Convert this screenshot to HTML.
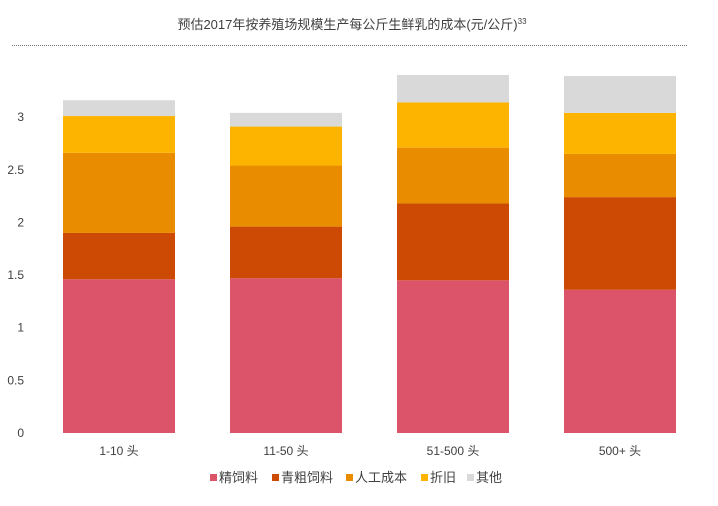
<!DOCTYPE html>
<html><head><meta charset="utf-8"><style>
body{margin:0;background:#fff;}
svg{display:block;font-family:"Liberation Sans","Noto Sans CJK SC",sans-serif;}
</style></head><body>
<svg id="chart" width="718" height="506">
<text x="352" y="29" text-anchor="middle" font-size="13" fill="#404040">预估2017年按养殖场规模生产每公斤生鲜乳的成本(元/公斤)<tspan font-size="8" dy="-5">33</tspan></text>
<line x1="12" y1="45.5" x2="688" y2="45.5" stroke="#777" stroke-dasharray="1,1"/>
<g id="axis"></g><g id="bars"></g><g id="legend"></g>
</svg>
<script>
const categories=["1-10 头","11-50 头","51-500 头","500+ 头"];
const seriesNames=["精饲料","青粗饲料","人工成本","折旧","其他"];
const colors=["#db5469","#cc4a04","#e98c00","#fdb400","#d9d9d9"];
const jingSiliao=[1.46,1.47,1.45,1.36];
const qingCuSiliao=[0.44,0.49,0.73,0.88];
const rengong=[0.76,0.58,0.53,0.41];
const zhejiu=[0.35,0.37,0.43,0.39];
const qita=[0.15,0.13,0.26,0.35];
const yTicks=[0,0.5,1,1.5,2,2.5,3];
const series=[jingSiliao,qingCuSiliao,rengong,zhejiu,qita];
const NS="http://www.w3.org/2000/svg";
function y(v){return 433-v*105.3;}
function xc(i){return 119+i*167;}
const bw=112;
function mk(t,a,p){const e=document.createElementNS(NS,t);for(const k in a)e.setAttribute(k,a[k]);p.appendChild(e);return e;}
const ax=document.getElementById('axis');
yTicks.forEach(v=>{const t=mk('text',{x:24,y:y(v)+4,'text-anchor':'end','font-size':12,fill:'#404040'},ax);t.textContent=v;

});
const bg=document.getElementById('bars');
categories.forEach((c,i)=>{let cum=0;series.forEach((s,k)=>{const r=mk('rect',{x:xc(i)-bw/2,y:y(cum+s[i]),width:bw,height:s[i]*105.3,fill:colors[k]},bg);

cum+=s[i];});
const t=mk('text',{x:xc(i),y:455,'text-anchor':'middle','font-size':12,fill:'#404040'},ax);t.textContent=c;

});
const lg=document.getElementById('legend');
const lx=[210,272,346,421,467];
seriesNames.forEach((n,k)=>{const g=mk('g',{},lg);


mk('rect',{x:lx[k],y:474,width:7,height:7,fill:colors[k]},g);
const t=mk('text',{x:lx[k]+9,y:482,'font-size':13,fill:'#404040'},g);t.textContent=n;});
</script>
</body></html>
